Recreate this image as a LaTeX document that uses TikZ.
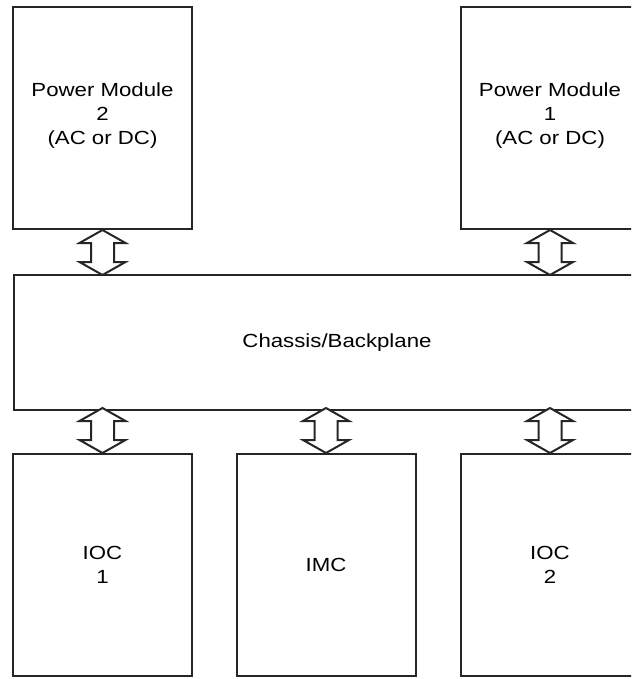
\documentclass[tikz,border=0pt]{standalone}
\usepackage{fontspec}
\setmainfont{Liberation Sans}[FakeStretch=1.17]
\usetikzlibrary{positioning}

\tikzset{
  unit/.style={draw=black!85,line width=2pt,minimum width=179pt,minimum height=222pt,inner sep=0pt},
  label/.style={align=center,font=\fontsize{19}{24}\selectfont},
  bus/.style={draw=black!85,line width=2pt,line join=miter,fill=white}
}

\begin{document}
\begin{tikzpicture}[x=1pt,y=-1pt]
  \useasboundingbox (0,0) rectangle (631,679);
  \clip (0,0) rectangle (631,679);

  % Power modules
  \node[unit] (pm2) at (102.5,118) {};
  \node[unit] (pm1) at (550,118) {};
  \node[label] (pm2txt) at ([yshift=2pt]pm2.center) {Power Module\\2\\(AC or DC)};
  \node[label] (pm1txt) at ([yshift=2pt]pm1.center) {Power Module\\1\\(AC or DC)};

  % Chassis
  \node[unit,minimum width=646pt,minimum height=135pt,anchor=north west] (chassis) at (13,274) {};
  \node[label] (chtxt) at (chassis.center) {Chassis/Backplane};

  % Controllers
  \node[unit] (ioc1) at (102.5,565) {};
  \node[unit] (imc) at (326,565) {};
  \node[unit] (ioc2) at (550,565) {};
  \node[label] (ioc1txt) at (ioc1.center) {IOC\\1};
  \node[label] (imctxt) at (imc.center) {IMC};
  \node[label] (ioc2txt) at (ioc2.center) {IOC\\2};

  % Double arrows
  \foreach \a in {pm2,pm1} {
    \draw[bus] (\a.south) -- ++(-23,13) -- ++(11.5,0) -- ++(0,19) -- ++(-11.5,0)
      -- ++(23,13) -- ++(23,-13) -- ++(-11.5,0) -- ++(0,-19) -- ++(11.5,0) -- cycle;
  }
  \foreach \b in {ioc1,imc,ioc2} {
    \draw[bus] (\b.north) -- ++(-23,-13) -- ++(11.5,0) -- ++(0,-19) -- ++(-11.5,0)
      -- ++(23,-13) -- ++(23,13) -- ++(-11.5,0) -- ++(0,19) -- ++(11.5,0) -- cycle;
  }
\end{tikzpicture}
\end{document}
